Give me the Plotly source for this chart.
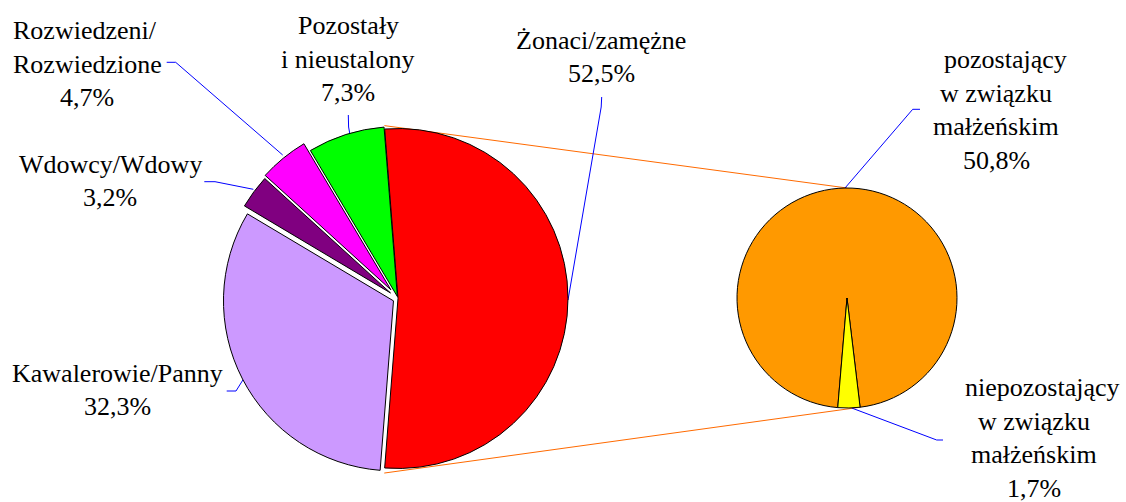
import math
import plotly.graph_objects as go

# ---- data ----
main_labels = ["Żonaci/zamężne", "Kawalerowie/Panny", "Wdowcy/Wdowy",
               "Rozwiedzeni/Rozwiedzione", "Pozostały i nieustalony"]
main_values = [52.5, 32.3, 3.2, 4.7, 7.3]
main_colors = ["#FF0000", "#CC99FF", "#800080", "#FF00FF", "#00FF00"]
main_pull = [0, 0.03, 0.055, 0.066, 0.012]

sub_labels = ["pozostający w związku małżeńskim", "niepozostający w związku małżeńskim"]
sub_values = [50.8, 1.7]
sub_colors = ["#FF9900", "#FFFF00"]

label_lines = [
    ["Żonaci/zamężne", "52,5%"],
    ["Kawalerowie/Panny", "32,3%"],
    ["Wdowcy/Wdowy", "3,2%"],
    ["Rozwiedzeni/", "Rozwiedzione", "4,7%"],
    ["Pozostały", "i nieustalony", "7,3%"],
    ["pozostający", "w związku", "małżeńskim", "50,8%"],
    ["niepozostający", "w związku", "małżeńskim", "1,7%"],
]

# ---- layout geometry (pixels) ----
W, H = 1126, 502
FONT = "serif"
FS = 26
LINE = 33.8

mcx, mcy, mr = 398.0, 298.5, 170.0
scx, scy, sr = 847.0, 298.0, 110.0

total = sum(main_values)
red_span = main_values[0] / total * 360.0
main_rot = 90.0 - red_span / 2.0          # start angle of first slice (clockwise from 12 o'clock)
sub_total = sum(sub_values)
yel_span = sub_values[1] / sub_total * 360.0
sub_rot = 180.0 + yel_span / 2.0 - 1.0    # orange starts right after the yellow wedge


def dom(cx, cy, half):
    return dict(x=[(cx - half) / W, (cx + half) / W],
                y=[(H - cy - half) / H, (H - cy + half) / H])


def pt(cx, cy, r, ang):
    a = math.radians(ang)
    return cx + r * math.sin(a), cy - r * math.cos(a)


fig = go.Figure()

# connector lines between the two pies (drawn beneath the pies)
a_start = main_rot
a_end = main_rot + red_span
p1 = pt(mcx, mcy, mr * 1.02, a_start)
p2 = pt(scx, scy, sr, 0)
p3 = pt(mcx, mcy, mr * 1.03, a_end)
p4 = pt(scx, scy, sr, sub_rot - yel_span)
for a, b in [(p1, p2), (p3, p4)]:
    fig.add_trace(go.Scatter(x=[a[0], b[0]], y=[a[1], b[1]], mode="lines",
                             line=dict(color="#FF6A00", width=1),
                             hoverinfo="skip", showlegend=False))

# leader lines (layout positions of the labels)
leaders = [
    [(601.7, 97), (601.2, 107), (568, 300)],
    [(348.3, 115), (348.6, 127), (350, 135)],
    [(166.7, 62.3), (175.7, 62.3), (282.7, 155)],
    [(204.3, 181.7), (215, 181.7), (253.3, 189.3)],
    [(226.7, 391), (236, 391), (243.3, 379.3)],
    [(920, 109.3), (912.7, 109.3), (845, 188)],
    [(851.7, 408), (936.7, 440), (943, 440)],
]
for pts in leaders:
    fig.add_trace(go.Scatter(x=[p[0] for p in pts], y=[p[1] for p in pts], mode="lines",
                             line=dict(color="#0000FF", width=1),
                             hoverinfo="skip", showlegend=False))

maxpull = max(main_pull)
fig.add_trace(go.Pie(
    labels=main_labels, values=main_values, sort=False, direction="clockwise",
    rotation=main_rot, pull=main_pull, textinfo="none", hoverinfo="label+percent",
    marker=dict(colors=main_colors, line=dict(color="black", width=1)),
    domain=dom(mcx, mcy, mr * (1 + maxpull)), showlegend=False))

fig.add_trace(go.Pie(
    labels=sub_labels, values=sub_values, sort=False, direction="clockwise",
    rotation=sub_rot, textinfo="none", hoverinfo="label+value",
    marker=dict(colors=sub_colors, line=dict(color="black", width=1)),
    domain=dom(scx, scy, sr), showlegend=False))

# label blocks: (center x, center y, x-shift of first line)
label_pos = [
    (601, 57, 0), (117, 390, 0), (110, 181, 0), (87, 64, -2), (348, 59, 0),
    (996, 110, 9), (1034, 438, 8),
]
annotations = []
for lines, (bx, by, shift) in zip(label_lines, label_pos):
    n = len(lines)
    for i, ln in enumerate(lines):
        annotations.append(dict(
            x=bx + (shift if i == 0 else 0), y=by + (i - (n - 1) / 2) * LINE,
            xref="x", yref="y", text=ln, showarrow=False,
            font=dict(family=FONT, size=FS, color="black")))

fig.update_layout(
    width=W, height=H, margin=dict(l=0, r=0, t=0, b=0),
    paper_bgcolor="white", plot_bgcolor="white", showlegend=False,
    xaxis=dict(range=[0, W], visible=False, fixedrange=True),
    yaxis=dict(range=[H, 0], visible=False, fixedrange=True),
    annotations=annotations,
)

fig.write_html("out.html", config={"displayModeBar": False},
               post_script="document.body.style.margin='0';")
